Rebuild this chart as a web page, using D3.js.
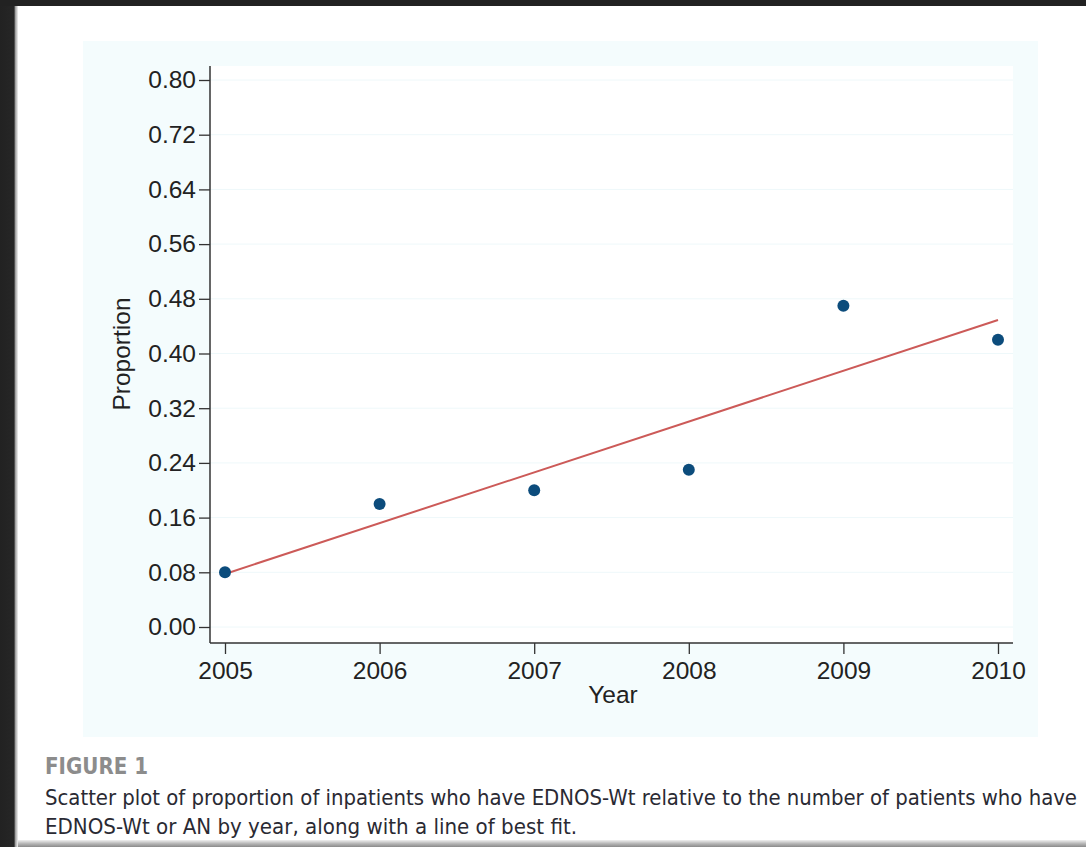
<!DOCTYPE html>
<html>
<head>
<meta charset="utf-8">
<script src="https://cdn.jsdelivr.net/npm/d3@7"></script>
<style>
  html, body { margin: 0; padding: 0; background: #ffffff; }
  svg { display: block; }
</style>
</head>
<body>
<svg id="chart" width="1086" height="847"></svg>
<script>
// ---- data ----
const years = [2005, 2006, 2007, 2008, 2009, 2010];
const proportions = [0.08, 0.18, 0.20, 0.23, 0.47, 0.42];
const yTickValues = [0.00, 0.08, 0.16, 0.24, 0.32, 0.40, 0.48, 0.56, 0.64, 0.72, 0.80];
const xTickValues = [2005, 2006, 2007, 2008, 2009, 2010];
const xTitle = "Year";
const yTitle = "Proportion";
const figureLabel = "FIGURE 1";
const captionLines = [
  "Scatter plot of proportion of inpatients who have EDNOS-Wt relative to the number of patients who have",
  "EDNOS-Wt or AN by year, along with a line of best fit."
];

// ---- layout ----
const W = 1086, H = 847;
const svg = d3.select("#chart");
const plot = { left: 210, right: 1013, top: 66, bottom: 643 };

// page frame
svg.append("rect").attr("x", 0).attr("y", 0).attr("width", W).attr("height", H).attr("fill", "#ffffff");
const defs = svg.append("defs");
const lg = defs.append("linearGradient").attr("id", "leftShadow").attr("x1", "0").attr("x2", "1");
lg.append("stop").attr("offset", "0").attr("stop-color", "#222222");
lg.append("stop").attr("offset", "0.78").attr("stop-color", "#262626");
lg.append("stop").attr("offset", "0.85").attr("stop-color", "#9a9a9a");
lg.append("stop").attr("offset", "1").attr("stop-color", "#f2f2f2");
const bg = defs.append("linearGradient").attr("id", "bottomShadow").attr("x1", "0").attr("x2", "0").attr("y1", "0").attr("y2", "1");
bg.append("stop").attr("offset", "0").attr("stop-color", "#f0f0f0");
bg.append("stop").attr("offset", "0.5").attr("stop-color", "#b8b8b8");
bg.append("stop").attr("offset", "1").attr("stop-color", "#8a8a8a");

svg.append("rect").attr("x", 0).attr("y", 840).attr("width", W).attr("height", 7).attr("fill", "url(#bottomShadow)");
svg.append("rect").attr("x", 0).attr("y", 0).attr("width", 18).attr("height", H).attr("fill", "url(#leftShadow)");
svg.append("rect").attr("x", 0).attr("y", 0).attr("width", W).attr("height", 6).attr("fill", "#222222");

// graph panel (light cyan) and plot region (white)
svg.append("rect").attr("x", 83).attr("y", 41).attr("width", 1038 - 83).attr("height", 737 - 41).attr("fill", "#f4fcfd");
svg.append("rect").attr("x", plot.left).attr("y", plot.top)
  .attr("width", plot.right - plot.left).attr("height", plot.bottom - plot.top).attr("fill", "#ffffff");

// scales
const x = d3.scaleLinear().domain([2005, 2010]).range([225, 998]);
const y = d3.scaleLinear().domain([0, 0.8]).range([627, 80]);

// gridlines
svg.append("g").selectAll("line").data(yTickValues).join("line")
  .attr("x1", plot.left).attr("x2", plot.right)
  .attr("y1", d => y(d)).attr("y2", d => y(d))
  .attr("stroke", "#eef8fa").attr("stroke-width", 1);

const fontFamily = "'Liberation Sans', Arial, Helvetica, sans-serif";
const fs = 24.5;

// y axis
const yAxis = svg.append("g").attr("transform", `translate(${plot.left},0)`)
  .call(d3.axisLeft(y).tickValues(yTickValues).tickSize(11).tickPadding(3).tickFormat(d3.format(".2f")));
yAxis.select(".domain").remove();
yAxis.selectAll(".tick line").attr("stroke", "#333333").attr("stroke-width", 1.3);
yAxis.selectAll(".tick text").attr("font-family", fontFamily).attr("font-size", fs).attr("fill", "#222222");
svg.append("line").attr("x1", plot.left).attr("x2", plot.left).attr("y1", plot.top).attr("y2", plot.bottom)
  .attr("stroke", "#333333").attr("stroke-width", 1.5);

// x axis
const xAxis = svg.append("g").attr("transform", `translate(0,${plot.bottom})`)
  .call(d3.axisBottom(x).tickValues(xTickValues).tickSize(11).tickPadding(7.6).tickFormat(d3.format("d")));
xAxis.select(".domain").remove();
xAxis.selectAll(".tick line").attr("stroke", "#333333").attr("stroke-width", 1.3);
xAxis.selectAll(".tick text").attr("font-family", fontFamily).attr("font-size", fs).attr("fill", "#222222");
svg.append("line").attr("x1", plot.left).attr("x2", plot.right).attr("y1", plot.bottom).attr("y2", plot.bottom)
  .attr("stroke", "#333333").attr("stroke-width", 1.5);

// axis titles
svg.append("text").attr("x", 613).attr("y", 703).attr("text-anchor", "middle")
  .attr("font-family", fontFamily).attr("font-size", fs).attr("fill", "#222222").text(xTitle);
svg.append("text").attr("transform", "translate(130,354) rotate(-90)").attr("text-anchor", "middle")
  .attr("font-family", fontFamily).attr("font-size", fs).attr("fill", "#222222").text(yTitle);

// line of best fit (least squares on the data)
const mx = d3.mean(years), my = d3.mean(proportions);
const sxy = d3.sum(years, (v, i) => (v - mx) * (proportions[i] - my));
const sxx = d3.sum(years, v => (v - mx) * (v - mx));
const slope = sxy / sxx, intercept = my - slope * mx;
const fitPts = d3.extent(years).map(v => [v, intercept + slope * v]);
svg.append("path").datum(fitPts)
  .attr("d", d3.line().x(d => x(d[0])).y(d => y(d[1])))
  .attr("fill", "none").attr("stroke", "#cc5a58").attr("stroke-width", 2);

// points
svg.append("g").selectAll("circle").data(years.map((v, i) => [v, proportions[i]])).join("circle")
  .attr("cx", d => x(d[0])).attr("cy", d => y(d[1])).attr("r", 6)
  .attr("fill", "#0c4c7c");

// caption
const capFont = "'Liberation Sans Narrow', 'DejaVu Sans Condensed', 'Liberation Sans', sans-serif";
svg.append("text").attr("x", 45).attr("y", 774)
  .attr("font-family", capFont).attr("font-weight", "bold").attr("font-size", 23)
  .attr("fill", "#8c8c8c").attr("textLength", 103).attr("lengthAdjust", "spacingAndGlyphs")
  .text(figureLabel);
const capLens = [1032, 532];
captionLines.forEach((t, i) => {
  svg.append("text").attr("x", 45).attr("y", 805 + i * 29)
    .attr("font-family", capFont).attr("font-size", 21)
    .attr("fill", "#2a2a33").attr("textLength", capLens[i]).attr("lengthAdjust", "spacingAndGlyphs")
    .text(t);
});
</script>
</body>
</html>
